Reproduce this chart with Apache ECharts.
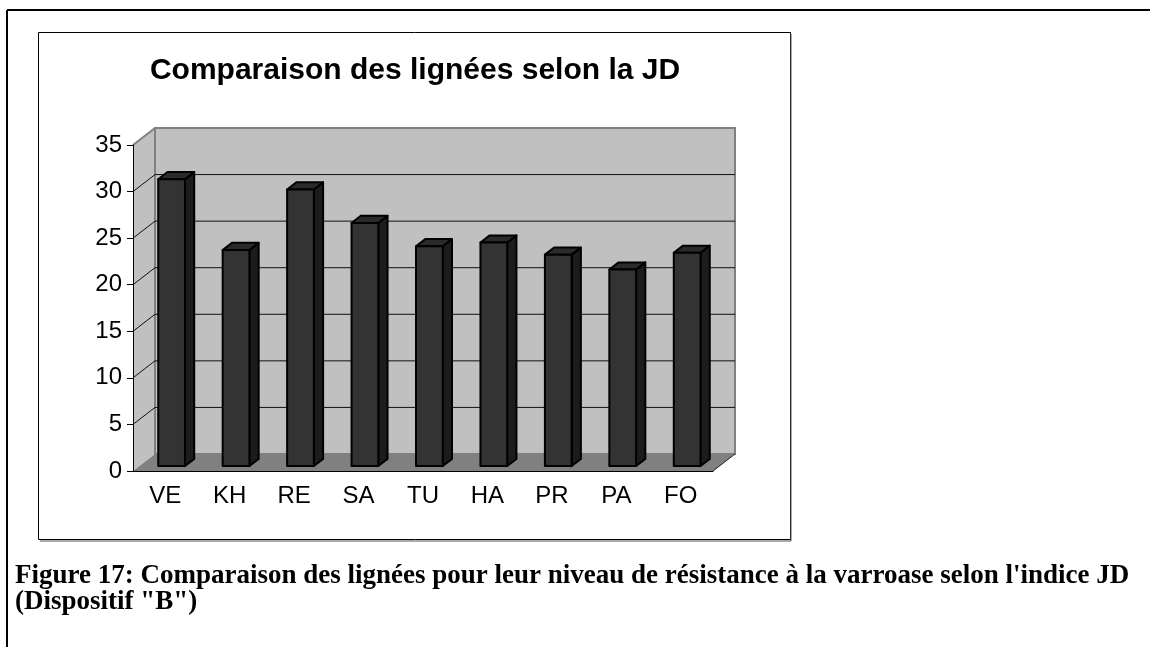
<!DOCTYPE html>
<html>
<head>
<meta charset="utf-8">
<script src="https://cdn.jsdelivr.net/npm/echarts@6/dist/echarts.min.js"></script>
<style>
    html, body { margin: 0; padding: 0; background: #fff; }
    #main { width: 1150px; height: 647px; }
</style>
</head>
<body>
<div id="main"></div>
<script>
// données
var categories = ['VE', 'KH', 'RE', 'SA', 'TU', 'HA', 'PR', 'PA', 'FO'];
var values = [30.8, 23.2, 29.7, 26.1, 23.6, 24.0, 22.7, 21.1, 22.9];
var yMin = 0;
var yMax = 35;
var yStep = 5;
var chartTitle = 'Comparaison des lignées selon la JD';
var caption = ['Figure 17: Comparaison des lignées pour leur niveau de résistance à la varroase selon l\'indice JD',
    '(Dispositif "B")'];

// profondeur de l'effet 3D (pixels)
var DX = 22;
var DY = 17;

var myChart = echarts.init(document.getElementById('main'));

function renderWalls(params, api) {
    var cs = params.coordSys;
    var x = cs.x, y = cs.y, w = cs.width, h = cs.height;
    var kids = [];
    // paroi latérale
    kids.push({
        type: 'polygon',
        shape: { points: [[x, y], [x + DX, y - DY], [x + DX, y + h - DY], [x, y + h]] },
        style: { fill: '#c0c0c0', stroke: null }
    });
    // paroi du fond
    kids.push({
        type: 'rect',
        shape: { x: x + DX, y: y - DY, width: w, height: h },
        style: { fill: '#c0c0c0', stroke: '#808080', lineWidth: 2 }
    });
    // quadrillage
    for (var v = yMin + yStep; v < yMax; v += yStep) {
        var yy = api.coord([0, v])[1];
        kids.push({
            type: 'polyline',
            shape: { points: [[x, yy], [x + DX, yy - DY], [x + DX + w, yy - DY]] },
            style: { fill: null, stroke: '#111', lineWidth: 1 }
        });
    }
    // arête haute de la paroi latérale
    kids.push({
        type: 'line',
        shape: { x1: x, y1: y, x2: x + DX, y2: y - DY },
        style: { stroke: '#808080', lineWidth: 2 }
    });
    // plancher
    kids.push({
        type: 'polygon',
        shape: { points: [[x, y + h], [x + DX, y + h - DY], [x + w + DX, y + h - DY], [x + w, y + h]] },
        style: { fill: '#808080', stroke: null }
    });
    kids.push({
        type: 'line',
        shape: { x1: x + w, y1: y + h, x2: x + w + DX, y2: y + h - DY },
        style: { stroke: '#222', lineWidth: 1 }
    });
    return { type: 'group', children: kids };
}

function renderBar(params, api) {
    var i = api.value(0);
    var v = api.value(1);
    var base = api.coord([i, 0]);
    var top = api.coord([i, v]);
    var w = api.size([1, 0])[0] * 0.415;
    var ox = DX * 0.29, oy = DY * 0.29;
    var dx = DX * 0.42, dy = DY * 0.42;
    var x0 = base[0] - w / 2 + ox;
    var x1 = x0 + w;
    var yb = base[1] - oy;
    var yt = top[1] - oy;
    var st = { stroke: '#000', lineWidth: 2, lineJoin: 'round' };
    return {
        type: 'group',
        children: [{
            type: 'polygon',
            shape: { points: [[x1, yt], [x1 + dx, yt - dy], [x1 + dx, yb - dy], [x1, yb]] },
            style: echarts.util.extend({ fill: '#1c1c1c' }, st)
        }, {
            type: 'polygon',
            shape: { points: [[x0, yt], [x0 + dx, yt - dy], [x1 + dx, yt - dy], [x1, yt]] },
            style: echarts.util.extend({ fill: '#2a2a2a' }, st)
        }, {
            type: 'rect',
            shape: { x: x0, y: yt, width: w, height: yb - yt },
            style: echarts.util.extend({ fill: '#333333' }, st)
        }]
    };
}

var barData = [];
for (var i = 0; i < values.length; i++) {
    barData.push([i, values[i]]);
}

var option = {
    animation: false,
    backgroundColor: '#fff',
    grid: {
        left: 133,
        right: 437,
        top: 145,
        bottom: 176
    },
    xAxis: {
        type: 'category',
        data: categories,
        boundaryGap: true,
        z: 10,
        axisLine: { lineStyle: { color: '#000', width: 1 } },
        axisTick: { length: 6, lineStyle: { color: '#000' } },
        axisLabel: { color: '#000', fontFamily: 'Liberation Sans', fontSize: 24, margin: 13 },
        splitLine: { show: false }
    },
    yAxis: {
        type: 'value',
        min: yMin,
        max: yMax,
        interval: yStep,
        z: 10,
        axisLine: { show: true, lineStyle: { color: '#000', width: 1 } },
        axisTick: { show: true, length: 6, lineStyle: { color: '#000' } },
        axisLabel: { color: '#000', fontFamily: 'Liberation Sans', fontSize: 24, margin: 11 },
        splitLine: { show: false }
    },
    graphic: [
        // cadre de la page
        { type: 'line', shape: { x1: 7, y1: 10, x2: 1150, y2: 10 }, style: { stroke: '#000', lineWidth: 2 } },
        { type: 'line', shape: { x1: 7, y1: 10, x2: 7, y2: 647 }, style: { stroke: '#000', lineWidth: 2 } },
        // cadre du graphique
        { type: 'rect', shape: { x: 38.5, y: 32.5, width: 752, height: 507 }, style: { fill: null, stroke: '#000', lineWidth: 1 } },
        { type: 'line', shape: { x1: 791, y1: 34, x2: 791, y2: 541 }, style: { stroke: '#555', lineWidth: 1 } },
        { type: 'line', shape: { x1: 40, y1: 541, x2: 791, y2: 541 }, style: { stroke: '#555', lineWidth: 1 } },
        {
            type: 'text', x: 415, y: 71,
            style: {
                text: chartTitle, fill: '#000', textAlign: 'center', textVerticalAlign: 'middle',
                font: 'bold 30px "Liberation Sans"'
            }
        },
        {
            type: 'text', x: 15, y: 563,
            style: {
                text: caption.join('\n'), fill: '#000', lineHeight: 26,
                font: 'bold 27px "Liberation Serif"'
            }
        }
    ],
    series: [{
        type: 'custom',
        z: 1,
        silent: true,
        renderItem: renderWalls,
        data: [[0, 0]]
    }, {
        type: 'custom',
        z: 2,
        renderItem: renderBar,
        data: barData
    }]
};

myChart.setOption(option);
</script>
</body>
</html>
